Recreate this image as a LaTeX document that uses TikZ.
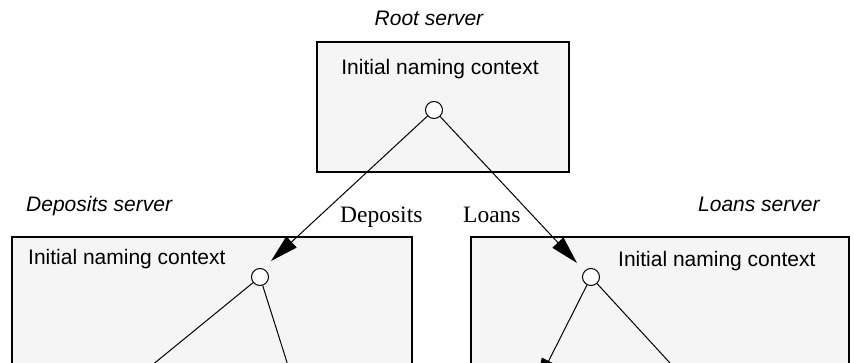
\documentclass[tikz,border=0pt]{standalone}
\usepackage{fontspec}
\setmainfont{Liberation Serif}
\setsansfont{Liberation Sans}
\usetikzlibrary{arrows.meta}
\definecolor{boxfill}{RGB}{245,245,245}
\tikzset{
  server/.style={draw=black, line width=2.5pt, fill=boxfill},
  ctx/.style={circle, draw=black, fill=white, line width=1pt, minimum size=17pt, inner sep=0pt},
  title/.style={font=\sffamily\itshape\fontsize{21}{24}\selectfont, inner sep=0pt},
  inner/.style={font=\sffamily\fontsize{21}{24}\selectfont, inner sep=0pt},
  label/.style={font=\rmfamily\fontsize{23.5}{26}\selectfont, inner sep=0pt},
  link/.style={line width=1pt},
  bind/.style={line width=1pt, -{Triangle[length=28pt,width=15pt]}}
}

\begin{document}
\begin{tikzpicture}[x=1pt, y=-1pt]
				%%%%% START %%%%%
				\useasboundingbox (0, 0) rectangle (854, 363);
				\clip (0, 0) rectangle (854, 363);
				
				% root server
				\node[title, anchor=base] (roottitle) at (429, 26) {Root server};
				\draw[server] (317, 42) rectangle (569, 172);
				\node[inner, anchor=base] (rootname) at (440, 75) {Initial naming context};
				\node[ctx] (rootc) at (434, 110) {};
				
				% deposits server
				\node[title, anchor=base west] (deptitle) at (26, 212) {Deposits server};
				\draw[server] (12, 237) rectangle (412, 400);
				\node[inner, anchor=base west] (depname) at (28, 265) {Initial naming context};
				\node[ctx] (depc) at (260, 277) {};
				
				% loans server
				\node[title, anchor=base west] (loantitle) at (698, 212) {Loans server};
				\draw[server] (471, 237) rectangle (849, 400);
				\node[inner, anchor=base west] (loanname) at (618, 267) {Initial naming context};
				\node[ctx] (loanc) at (591, 277) {};
				
				% bindings in the root context
				\coordinate (depin) at (271, 261);
				\coordinate (loanin) at (577, 263);
				\draw[bind] (rootc) -- (depin);
				\draw[bind] (rootc) -- (loanin);
				\node[label, anchor=base west] (deplabel) at (340, 223) {Deposits};
				\node[label, anchor=base west] (loanlabel) at (463, 223) {Loans};
				
				% lower bindings
				\coordinate (depl) at (140, 375);
				\coordinate (depr) at (291, 375);
				\coordinate (loanl) at (536, 386);
				\coordinate (loanr) at (681, 375);
				\draw[link] (depc) -- (depl);
				\draw[link] (depc) -- (depr);
				\draw[bind] (loanc) -- (loanl);
				\draw[link] (loanc) -- (loanr);
				%%%%% END %%%%%
			\end{tikzpicture}
\end{document}
